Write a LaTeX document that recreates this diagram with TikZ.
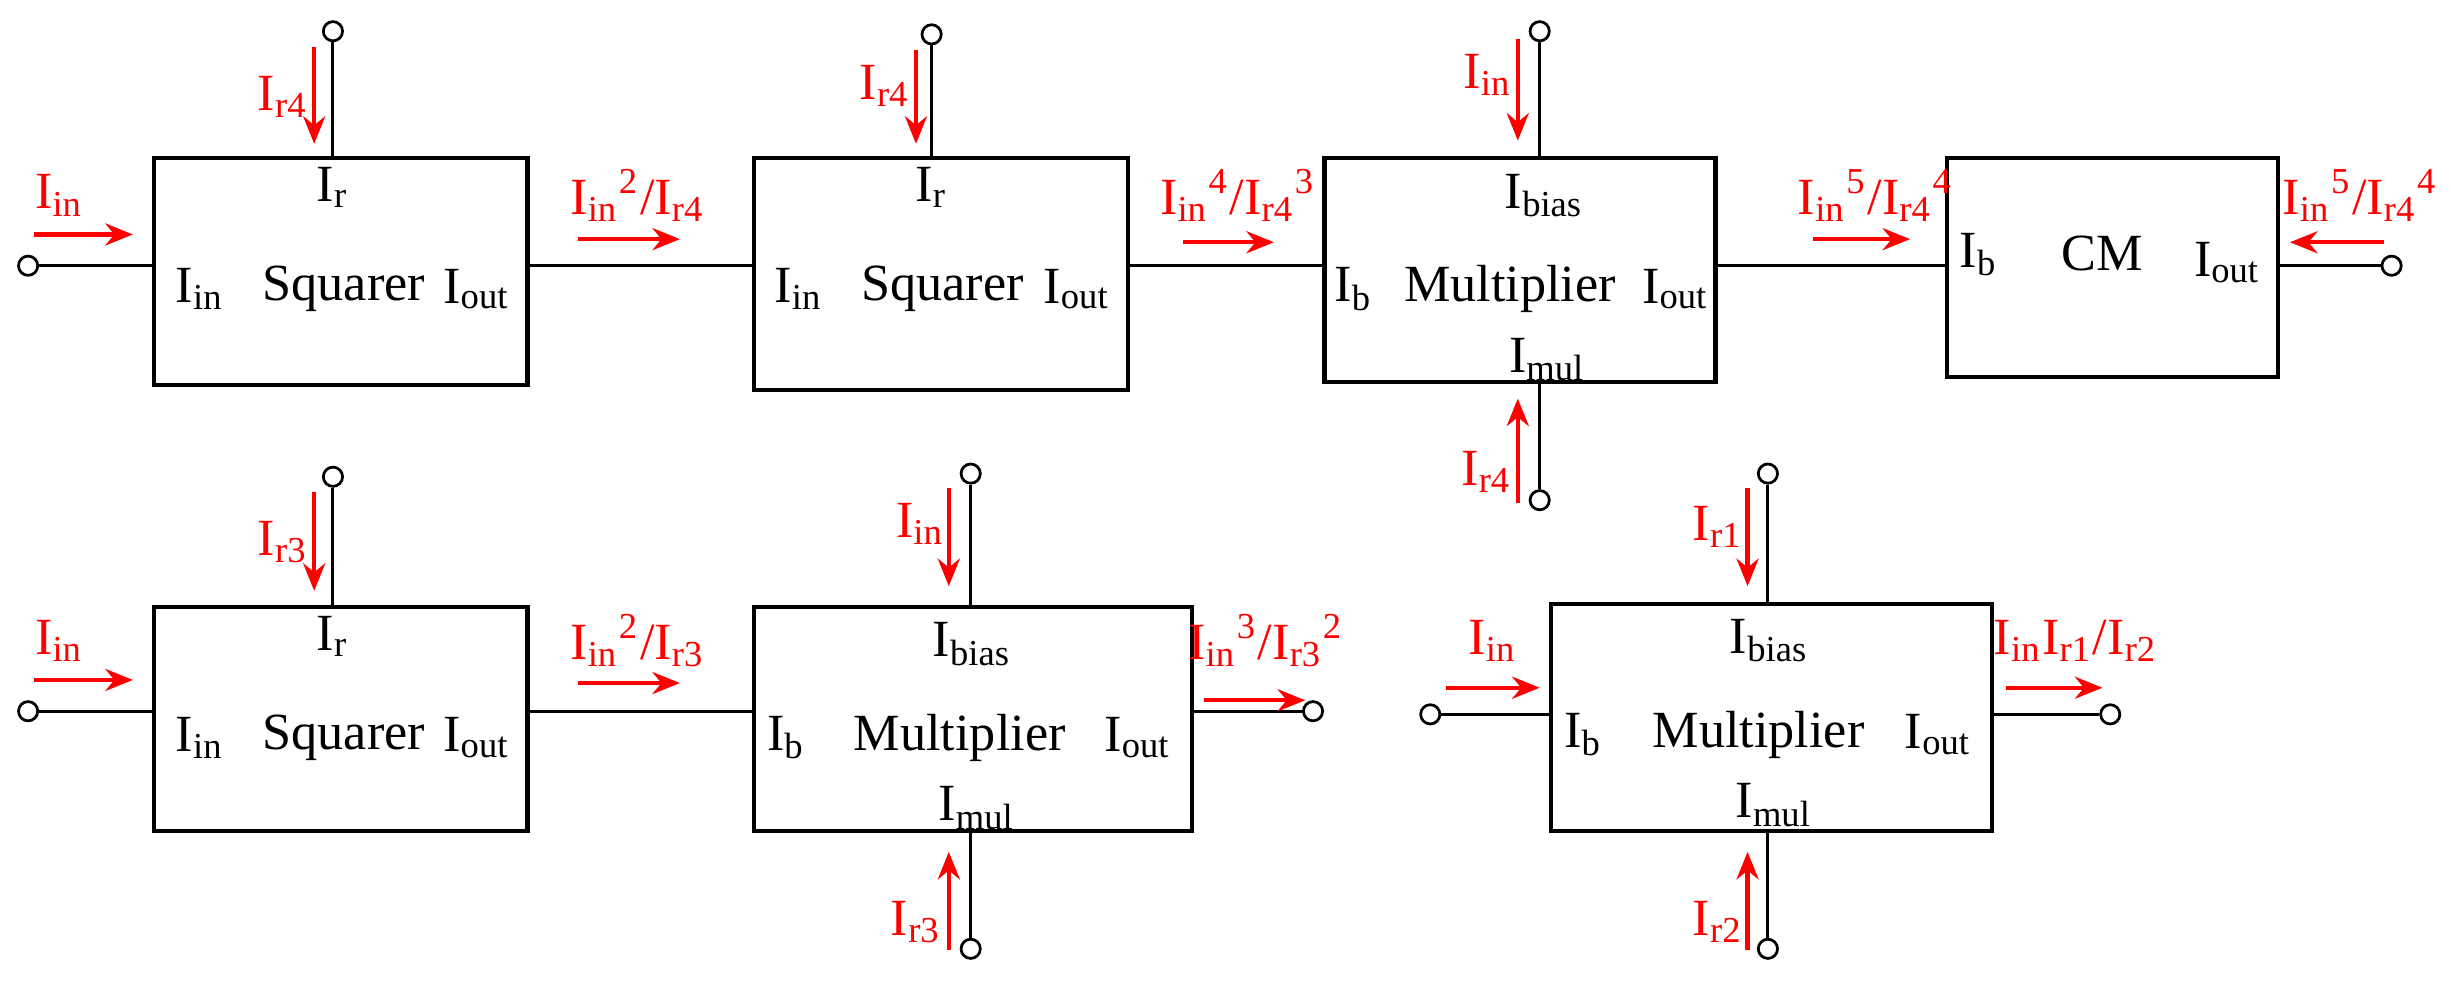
\documentclass[tikz,border=0pt]{standalone}
\usepackage{fontspec}
\setmainfont{Liberation Serif}
\usetikzlibrary{arrows.meta}
\begin{document}
\begin{tikzpicture}[x=0.01cm,y=-0.01cm,
 box/.style={draw,line width=0.75pt,inner sep=0pt,anchor=north west},
 term/.style={circle,draw,line width=0.5pt,inner sep=0pt,minimum size=3.5pt,fill=white},
 wire/.style={line width=0.55pt},
 ra/.style={draw=red,line width=0.8pt,-{Stealth[length=5pt,width=4pt]}},
 rt/.style={text=red,font=\fontsize{9.5}{11}\selectfont,inner sep=0pt},
 bt/.style={font=\fontsize{9.5}{11}\selectfont,inner sep=0pt}]
\useasboundingbox (0,0) rectangle (1568,628);
% boxes
\node[box,minimum width=2.39cm,minimum height=1.45cm] (b1) at (97,100) {};
\node[box,minimum width=2.39cm,minimum height=1.48cm] (b2) at (481,100) {};
\node[box,minimum width=2.50cm,minimum height=1.43cm] (b3) at (846,100) {};
\node[box,minimum width=2.12cm,minimum height=1.40cm] (b4) at (1244,100) {};
\node[box,minimum width=2.39cm,minimum height=1.43cm] (b5) at (97,387) {};
\node[box,minimum width=2.80cm,minimum height=1.43cm] (b6) at (481,387) {};
\node[box,minimum width=2.82cm,minimum height=1.45cm] (b7) at (991,385) {};
% terminals
\node[term] (t1) at (18,170) {};
\node[term] (t4) at (1530,170) {};
\node[term] (v1) at (213,20) {};
\node[term] (v2) at (596,22) {};
\node[term] (v3) at (985,20) {};
\node[term] (v3b) at (985,320) {};
\node[term] (t5) at (18,455) {};
\node[term] (v5) at (213,305) {};
\node[term] (v6) at (621,303) {};
\node[term] (v6b) at (621,607) {};
\node[term] (t6) at (840,455) {};
\node[term] (t7) at (915,457) {};
\node[term] (v7) at (1131,303) {};
\node[term] (v7b) at (1131,607) {};
\node[term] (t7o) at (1350,457) {};
% wires
\draw[wire] (t1) -- (t1-|b1.west);
\draw[wire] (b1.east|-t1) -- (b2.west|-t1);
\draw[wire] (b2.east|-t1) -- (b3.west|-t1);
\draw[wire] (b3.east|-t1) -- (b4.west|-t1);
\draw[wire] (t4) -- (t4-|b4.east);
\draw[wire] (v1) -- (v1|-b1.north);
\draw[wire] (v2) -- (v2|-b2.north);
\draw[wire] (v3) -- (v3|-b3.north);
\draw[wire] (v3b) -- (v3b|-b3.south);
\draw[wire] (t5) -- (t5-|b5.west);
\draw[wire] (b5.east|-t5) -- (b6.west|-t5);
\draw[wire] (t6) -- (t6-|b6.east);
\draw[wire] (v5) -- (v5|-b5.north);
\draw[wire] (v6) -- (v6|-b6.north);
\draw[wire] (v6b) -- (v6b|-b6.south);
\draw[wire] (t7) -- (t7-|b7.west);
\draw[wire] (t7o) -- (t7o-|b7.east);
\draw[wire] (v7) -- (v7|-b7.north);
\draw[wire] (v7b) -- (v7b|-b7.south);
% box texts
\node[bt] (l1a) at (213,120) {I\textsubscript{r}};
\node[bt] (l1b) at (128,185) {I\textsubscript{in}};
\node[bt] (l1c) at (220,185) {Squarer};
\node[bt] (l1d) at (305,185) {I\textsubscript{out}};
\node[bt] (l2a) at (596,120) {I\textsubscript{r}};
\node[bt] (l2b) at (511,185) {I\textsubscript{in}};
\node[bt] (l2c) at (603,185) {Squarer};
\node[bt] (l2d) at (689,185) {I\textsubscript{out}};
\node[bt] (l3a) at (988,125) {I\textsubscript{bias}};
\node[bt] (l3b) at (866,185) {I\textsubscript{b}};
\node[bt] (l3c) at (966,185) {Multiplier};
\node[bt] (l3d) at (1072,185) {I\textsubscript{out}};
\node[bt] (l3e) at (990,230) {I\textsubscript{mul}};
\node[bt] (l4a) at (1266,163) {I\textsubscript{b}};
\node[bt] (l4b) at (1345,162) {CM};
\node[bt] (l4c) at (1425,168) {I\textsubscript{out}};
\node[bt] (l5a) at (213,407) {I\textsubscript{r}};
\node[bt] (l5b) at (128,472) {I\textsubscript{in}};
\node[bt] (l5c) at (220,472) {Squarer};
\node[bt] (l5d) at (305,472) {I\textsubscript{out}};
\node[bt] (l6a) at (622,412) {I\textsubscript{bias}};
\node[bt] (l6b) at (503,472) {I\textsubscript{b}};
\node[bt] (l6c) at (614,472) {Multiplier};
\node[bt] (l6d) at (728,472) {I\textsubscript{out}};
\node[bt] (l6e) at (625,517) {I\textsubscript{mul}};
\node[bt] (l7a) at (1132,410) {I\textsubscript{bias}};
\node[bt] (l7b) at (1013,470) {I\textsubscript{b}};
\node[bt] (l7c) at (1125,470) {Multiplier};
\node[bt] (l7d) at (1240,470) {I\textsubscript{out}};
\node[bt] (l7e) at (1135,515) {I\textsubscript{mul}};
% red labels
\node[rt] (r1) at (38,125) {I\textsubscript{in}};
\node[rt] (r2) at (198,62) [left] {I\textsubscript{r4}};
\node[rt] (r3) at (408,125) {I\textsubscript{in}\textsuperscript{2}/I\textsubscript{r4}};
\node[rt] (r4) at (583,55) [left] {I\textsubscript{r4}};
\node[rt] (r5) at (792,125) {I\textsubscript{in}\textsuperscript{4}/I\textsubscript{r4}\textsuperscript{3}};
\node[rt] (r6) at (968,48) [left] {I\textsubscript{in}};
\node[rt] (r7) at (968,302) [left] {I\textsubscript{r4}};
\node[rt] (r8) at (1200,125) {I\textsubscript{in}\textsuperscript{5}/I\textsubscript{r4}\textsuperscript{4}};
\node[rt] (r9) at (1510,125) {I\textsubscript{in}\textsuperscript{5}/I\textsubscript{r4}\textsuperscript{4}};
\node[rt] (r10) at (38,410) {I\textsubscript{in}};
\node[rt] (r11) at (198,347) [left] {I\textsubscript{r3}};
\node[rt] (r12) at (408,410) {I\textsubscript{in}\textsuperscript{2}/I\textsubscript{r3}};
\node[rt] (r13) at (605,335) [left] {I\textsubscript{in}};
\node[rt] (r14) at (603,590) [left] {I\textsubscript{r3}};
\node[rt] (r15) at (810,410) {I\textsubscript{in}\textsuperscript{3}/I\textsubscript{r3}\textsuperscript{2}};
\node[rt] (r16) at (955,410) {I\textsubscript{in}};
\node[rt] (r17) at (1116,337) [left] {I\textsubscript{r1}};
\node[rt] (r18) at (1116,590) [left] {I\textsubscript{r2}};
\node[rt] (r19) at (1328,410) {I\textsubscript{in}I\textsubscript{r1}/I\textsubscript{r2}};
% red arrows
\coordinate (a1s) at (22,150); \coordinate (a1e) at (85,150);
\draw[ra] (a1s) -- (a1e);
\coordinate (a2s) at (201,30); \coordinate (a2e) at (201,92);
\draw[ra] (a2s) -- (a2e);
\coordinate (a3s) at (370,153); \coordinate (a3e) at (435,153);
\draw[ra] (a3s) -- (a3e);
\coordinate (a4s) at (586,32); \coordinate (a4e) at (586,92);
\draw[ra] (a4s) -- (a4e);
\coordinate (a5s) at (757,155); \coordinate (a5e) at (815,155);
\draw[ra] (a5s) -- (a5e);
\coordinate (a6s) at (971,25); \coordinate (a6e) at (971,90);
\draw[ra] (a6s) -- (a6e);
\coordinate (a7s) at (971,322); \coordinate (a7e) at (971,255);
\draw[ra] (a7s) -- (a7e);
\coordinate (a8s) at (1160,153); \coordinate (a8e) at (1222,153);
\draw[ra] (a8s) -- (a8e);
\coordinate (a9s) at (1525,155); \coordinate (a9e) at (1465,155);
\draw[ra] (a9s) -- (a9e);
\coordinate (b1s) at (22,435); \coordinate (b1e) at (85,435);
\draw[ra] (b1s) -- (b1e);
\coordinate (b2s) at (201,315); \coordinate (b2e) at (201,378);
\draw[ra] (b2s) -- (b2e);
\coordinate (b3s) at (370,437); \coordinate (b3e) at (435,437);
\draw[ra] (b3s) -- (b3e);
\coordinate (b4s) at (607,312); \coordinate (b4e) at (607,375);
\draw[ra] (b4s) -- (b4e);
\coordinate (b5s) at (607,608); \coordinate (b5e) at (607,545);
\draw[ra] (b5s) -- (b5e);
\coordinate (b6s) at (770,448); \coordinate (b6e) at (835,448);
\draw[ra] (b6s) -- (b6e);
\coordinate (b7s) at (925,440); \coordinate (b7e) at (985,440);
\draw[ra] (b7s) -- (b7e);
\coordinate (b8s) at (1118,312); \coordinate (b8e) at (1118,375);
\draw[ra] (b8s) -- (b8e);
\coordinate (b9s) at (1118,608); \coordinate (b9e) at (1118,545);
\draw[ra] (b9s) -- (b9e);
\coordinate (b10s) at (1283,440); \coordinate (b10e) at (1345,440);
\draw[ra] (b10s) -- (b10e);
\end{tikzpicture}
\end{document}
